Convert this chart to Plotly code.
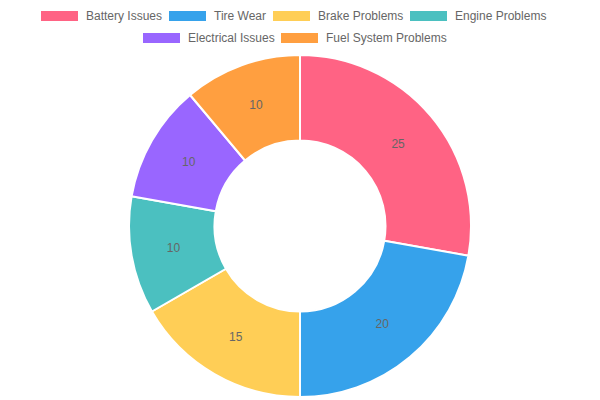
import plotly.graph_objects as go

# Data
labels = [
    "Battery Issues",
    "Tire Wear",
    "Brake Problems",
    "Engine Problems",
    "Electrical Issues",
    "Fuel System Problems",
]
values = [25, 20, 15, 10, 10, 10]
colors = ["#FF6384", "#36A2EB", "#FFCE56", "#4BC0C0", "#9966FF", "#FF9F40"]

W, H = 600, 400

# Legend layout (pixel positions of each box's left edge and row centre)
legend_x = [41, 169, 273, 410, 143, 281]
legend_y = [16, 16, 16, 16, 38, 38]

fig = go.Figure(
    go.Pie(
        labels=labels,
        values=values,
        hole=0.5,
        sort=False,
        direction="clockwise",
        rotation=0,
        marker={"colors": colors, "line": {"color": "white", "width": 2}},
        textinfo="value",
        textposition="inside",
        insidetextorientation="horizontal",
        textfont={"family": "Liberation Sans, Arial", "size": 12, "color": "#666"},
        domain={"x": [0, 1], "y": [(H - 397) / H, (H - 55) / H]},
        showlegend=False,
        hovertemplate="%{label}: %{value}<extra></extra>",
    )
)

# Hand-drawn legend so the two rows are centred like the original
shapes = []
annotations = []
for name, color, lx, ly in zip(labels, colors, legend_x, legend_y):
    shapes.append(
        {
            "type": "rect",
            "xref": "paper",
            "yref": "paper",
            "x0": lx / W,
            "x1": (lx + 37) / W,
            "y0": 1 - (ly + 5) / H,
            "y1": 1 - (ly - 5) / H,
            "fillcolor": color,
            "line": {"width": 0},
        }
    )
    annotations.append(
        {
            "x": (lx + 43) / W,
            "y": 1 - ly / H,
            "xref": "paper",
            "yref": "paper",
            "xanchor": "left",
            "yanchor": "middle",
            "text": name,
            "showarrow": False,
            "font": {"family": "Liberation Sans, Arial", "size": 12, "color": "#666"},
        }
    )

fig.update_layout(
    width=W,
    height=H,
    margin={"l": 0, "r": 0, "t": 0, "b": 0},
    paper_bgcolor="white",
    plot_bgcolor="white",
    shapes=shapes,
    annotations=annotations,
)

# drop the browser's default body margin so the figure sits at the page corner
fig.write_html(
    "out.html",
    config={"displayModeBar": False},
    post_script="document.body.style.margin='0';",
)
